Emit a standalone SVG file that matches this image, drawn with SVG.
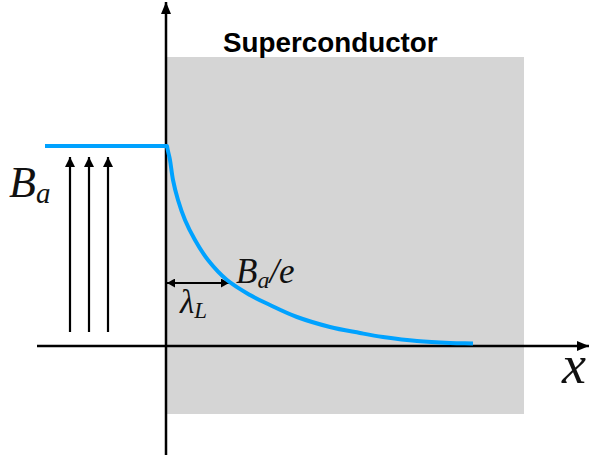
<svg xmlns="http://www.w3.org/2000/svg" width="589" height="457" viewBox="0 0 589 457">
<defs>
<style>
.axis{stroke:#000;stroke-width:2.5;fill:none}
.field{stroke:#000;stroke-width:2.2;fill:none}
.blue{stroke:#00A2FF;stroke-width:4;fill:none;stroke-linejoin:round}
.math{font-family:"Liberation Serif","DejaVu Serif",serif;font-style:italic;fill:#111}
.title{font-family:"Liberation Sans",Arial,sans-serif;font-weight:bold;fill:#000}
</style>
<marker id="ah" viewBox="0 0 10 10" refX="10" refY="5" markerWidth="10" markerHeight="10" markerUnits="userSpaceOnUse" orient="auto-start-reverse"><path d="M0,0 L10,5 L0,10 z" fill="#000"/></marker>
<marker id="ahBig" viewBox="0 0 12 10" refX="12" refY="5" markerWidth="12" markerHeight="10" markerUnits="userSpaceOnUse" orient="auto"><path d="M0,0 L12,5 L0,10 z" fill="#000"/></marker>
<marker id="ahSmall" viewBox="0 0 8 9" refX="8" refY="4.5" markerWidth="8" markerHeight="9" markerUnits="userSpaceOnUse" orient="auto-start-reverse"><path d="M0,0 L8,4.5 L0,9 z" fill="#000"/></marker>
</defs>
<rect width="589" height="457" fill="#fff"/>
<g id="superconductor">
<rect x="167" y="57" width="357" height="357" fill="#D5D5D5"/>
<text class="title" x="223" y="52" font-size="27.8">Superconductor</text>
</g>
<g id="connectors">
<line class="axis" x1="166" y1="455" x2="166" y2="2" marker-end="url(#ahBig)"/>
<line class="axis" x1="37" y1="346" x2="589" y2="346" marker-end="url(#ahBig)"/>
<line class="field" x1="70" y1="332" x2="70" y2="157" marker-end="url(#ah)"/>
<line class="field" x1="89" y1="332" x2="89" y2="157" marker-end="url(#ah)"/>
<line class="field" x1="108" y1="332" x2="108" y2="157" marker-end="url(#ah)"/>
<line x1="167" y1="283" x2="229" y2="283" stroke="#000" stroke-width="1.8" marker-start="url(#ahSmall)" marker-end="url(#ahSmall)"/>
</g>
<g id="field-profile">
<path class="blue" d="M45,146 L167,146 C167.7,151 169,154.3 170,160 C171,165.7 171.7,173.3 173,180 C174.3,186.7 176,193.3 178,200 C180,206.7 182.2,213.3 185,220 C187.8,226.7 191.2,233.3 195,240 C198.8,246.7 202.7,253.3 208,260 C213.3,266.7 220,274.2 227,280 C234,285.8 242.8,290.8 250,295 C257.2,299.2 262.2,301.3 270,305 C277.8,308.7 287,313.3 297,317 C307,320.7 319.5,324.3 330,327 C340.5,329.7 351.2,331.3 360,333 C368.8,334.7 373.5,335.7 383,337 C392.5,338.3 405.8,340 417,341 C428.2,342 440.7,342.6 450,343 C459.3,343.4 465.3,343.3 473,343.5"/>
</g>
<g id="labels">
<text class="math" x="9" y="197" font-size="44">B<tspan font-size="29" dy="6">a</tspan></text>
<text class="math" x="236" y="283" font-size="35">B<tspan font-size="24" dy="5">a</tspan><tspan dy="-5">/e</tspan></text>
<text class="math" x="180" y="313" font-size="33">λ<tspan font-size="23" dy="5">L</tspan></text>
<text class="math" x="562" y="383" font-size="54">x</text>
</g>
</svg>
